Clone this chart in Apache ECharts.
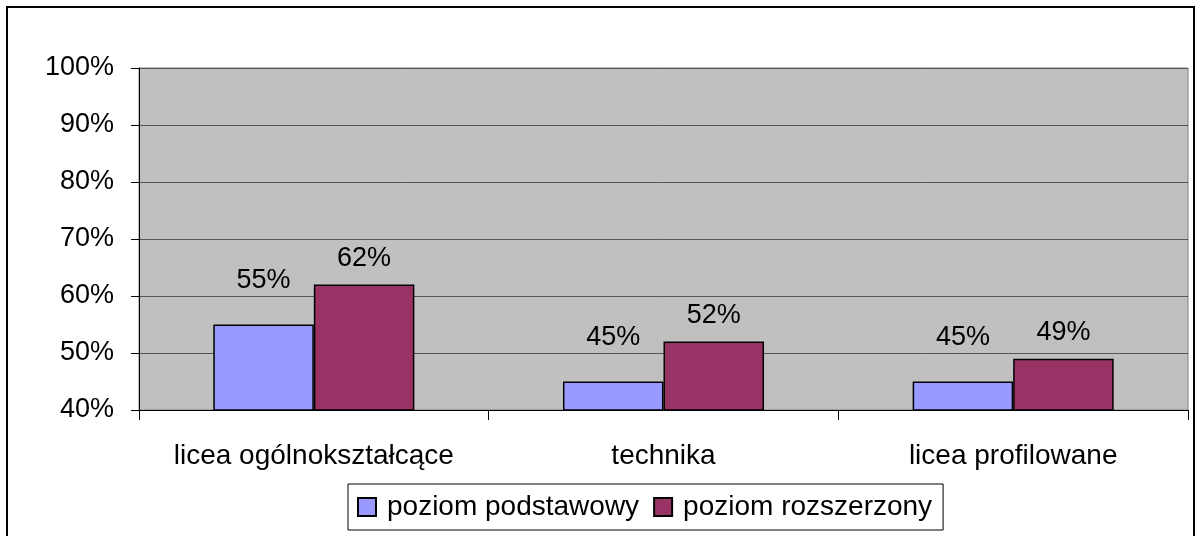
<!DOCTYPE html>
<html>
<head>
<meta charset="utf-8">
<script src="https://cdn.jsdelivr.net/npm/echarts@6/dist/echarts.min.js"></script>
<style>
  html, body { margin: 0; padding: 0; background: #fff; }
  #chart { width: 1196px; height: 536px; }
</style>
</head>
<body>
<div id="chart"></div>
<script>
  var categories = ['licea ogólnokształcące', 'technika', 'licea profilowane'];
  var podstawowy = [55, 45, 45];
  var rozszerzony = [62, 52, 49];
  var seriesNames = ['poziom podstawowy', 'poziom rozszerzony'];

  var font = 'Liberation Sans, Arial, sans-serif';

  var chart = echarts.init(document.getElementById('chart'));

  chart.setOption({
    animation: false,
    backgroundColor: '#fff',
    textStyle: { fontFamily: font },
    graphic: [{
      type: 'rect',
      shape: { x: 7, y: 7, width: 1187, height: 540 },
      style: { fill: 'none', stroke: '#000', lineWidth: 2 }
    }],
    grid: {
      left: 139, right: 8, top: 68, bottom: 126,
      show: true,
      backgroundColor: '#c0c0c0',
      borderColor: '#808080',
      borderWidth: 1
    },
    legend: {
      left: 348, top: 484,
      padding: [9, 11, 9, 9],
      borderColor: '#000', borderWidth: 1,
      icon: 'rect',
      itemWidth: 18, itemHeight: 18, itemGap: 14,
      textStyle: { fontSize: 28, color: '#000', fontFamily: font, padding: [0, 0, 0, 6] },
      data: seriesNames
    },
    xAxis: {
      type: 'category',
      data: categories,
      axisLine: { lineStyle: { color: '#000' } },
      axisTick: { show: true, length: 10, lineStyle: { color: '#000' } },
      axisLabel: { interval: 0, fontSize: 28, color: '#000', margin: 32, fontFamily: font }
    },
    yAxis: {
      type: 'value',
      min: 40, max: 100, interval: 10,
      axisLine: { show: true, lineStyle: { color: '#000' } },
      axisTick: { show: true, inside: false, length: 8, lineStyle: { color: '#000' } },
      axisLabel: { fontSize: 27, color: '#000', margin: 25, formatter: '{value}%', fontFamily: font },
      splitLine: { lineStyle: { color: '#555', width: 1 } }
    },
    series: [{
      name: seriesNames[0],
      type: 'bar',
      data: podstawowy,
      barGap: '0%',
      barCategoryGap: '42.5%',
      itemStyle: { color: '#9999ff', borderColor: '#000', borderWidth: 1.5 },
      label: { show: true, position: 'top', distance: 30, fontSize: 27, color: '#000', formatter: '{c}%', fontFamily: font }
    }, {
      name: seriesNames[1],
      type: 'bar',
      data: rozszerzony,
      itemStyle: { color: '#993366', borderColor: '#000', borderWidth: 1.5 },
      label: { show: true, position: 'top', distance: 13, fontSize: 27, color: '#000', formatter: '{c}%', fontFamily: font }
    }]
  });
</script>
</body>
</html>
